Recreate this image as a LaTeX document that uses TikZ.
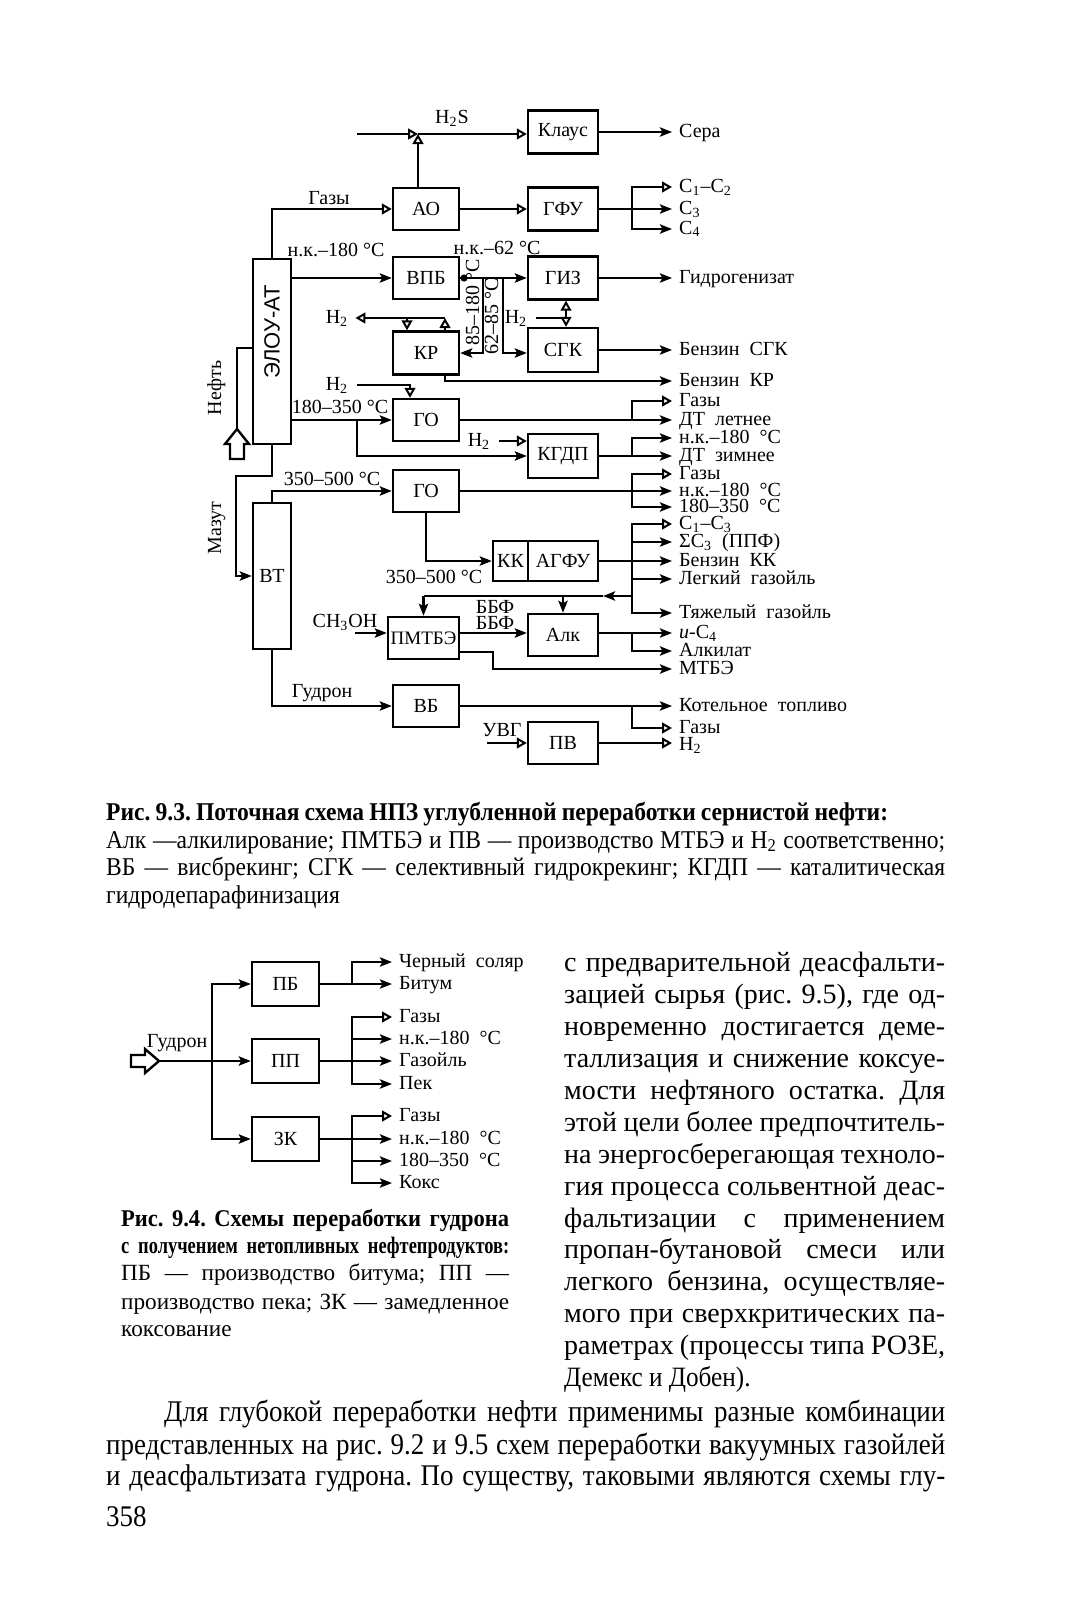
\documentclass[tikz,border=0pt]{standalone}
\usepackage{fontspec}
\setmainfont{Liberation Serif}
\newfontfamily\sansf{Liberation Sans}
\newfontfamily\condf[FakeStretch=0.9]{Liberation Serif}
\newfontfamily\capf[FakeStretch=0.92]{Liberation Serif}
\newfontfamily\capbf[FakeStretch=0.94]{Liberation Serif}
\newfontfamily\condbf[FakeStretch=0.78]{Liberation Serif}
\usetikzlibrary{arrows.meta}
\begin{document}
\frenchspacing
\begin{tikzpicture}[x=0.5pt,y=-0.5pt,line width=1.2pt,
  box/.style={draw,line width=1.2pt,inner sep=0pt,font=\fontsize{10}{12}\selectfont},
  lab/.style={inner sep=0pt,font=\fontsize{10}{12}\selectfont,text height=6.6pt,text depth=1.6pt},
  rl/.style={lab,anchor=west},
  fa/.style={-{Stealth[length=6pt,width=4.6pt,inset=1.2pt]}},
  oa/.style={-{Triangle[open,length=5pt,width=5.4pt,line width=1pt]}},
  ta/.style={shorten >=3pt},
  txt/.style={inner sep=0pt,anchor=base west},
]
\useasboundingbox (0,0) rectangle (1067,1600);

% ---------------- Fig 9.3 boxes ----------------
\node[box,minimum width=35pt,minimum height=21.5pt] (klaus) at (563,132) {Клаус};
\node[box,minimum width=33pt,minimum height=21pt] (AO) at (426,209) {АО};
\node[box,minimum width=35pt,minimum height=21.5pt] (GFU) at (563,209) {ГФУ};
\node[box,minimum width=19pt,minimum height=92.5pt] (ELOU) at (272,351.5) {};
\node[rotate=90,inner sep=0pt,font=\sansf\fontsize{11}{12}\selectfont] (ELOUt) at (272,332) {ЭЛОУ-АТ};
\node[box,minimum width=33pt,minimum height=21pt] (VPB) at (426,278) {ВПБ};
\node[box,minimum width=35pt,minimum height=21.5pt] (GIZ) at (563,278) {ГИЗ};
\node[box,minimum width=33pt,minimum height=21.5pt] (KR) at (426,353) {КР};
\node[box,minimum width=35pt,minimum height=22pt] (SGK) at (563,350) {СГК};
\node[box,minimum width=33pt,minimum height=21pt] (GO1) at (426,420) {ГО};
\node[box,minimum width=35pt,minimum height=22pt] (KGDP) at (563,456) {КГДП};
\node[box,minimum width=19pt,minimum height=73pt] (VT) at (272,576) {ВТ};
\node[box,minimum width=33pt,minimum height=21pt] (GO2) at (426,491) {ГО};
\node[box,minimum width=17.5pt,minimum height=20pt] (KK) at (510.5,561) {КК};
\node[box,minimum width=35pt,minimum height=20pt] (AGFU) at (563,561) {АГФУ};
\node[box,minimum width=35.5pt,minimum height=21pt,font=\fontsize{9.5}{11}\selectfont] (PMTBE) at (423.5,638) {ПМТБЭ};
\node[box,minimum width=35pt,minimum height=21pt] (ALK) at (563,635) {Алк};
\node[box,minimum width=33pt,minimum height=21pt] (VB) at (426,706) {ВБ};
\node[box,minimum width=35pt,minimum height=21pt] (PV) at (563,743) {ПВ};

% ---------------- left / inner labels ----------------
\node[lab] (lGazy) at (329,199) {Газы};
\node[lab] (lH2S) at (452,119) {H\textsubscript{2}S};
\node[lab] (lnk180) at (336,251) {н.к.–180~°C};
\node[lab] (lnk62) at (497,249) {н.к.–62~°C};
\node[lab,rotate=90] (l85) at (474,302) {85–180~°C};
\node[lab,rotate=90] (l62) at (493,316) {62–85~°C};
\node[lab] (lH2a) at (337,318) {H\textsubscript{2}};
\node[lab] (lH2b) at (516,318) {H\textsubscript{2}};
\node[lab] (lH2c) at (337,385) {H\textsubscript{2}};
\node[lab] (l180) at (340,408) {180–350~°C};
\node[lab] (lH2d) at (479,441) {H\textsubscript{2}};
\node[lab] (l350a) at (332,480) {350–500~°C};
\node[lab] (l350b) at (434,578) {350–500~°C};
\node[lab] (lCH3OH) at (345,622) {CH\textsubscript{3}OH};
\node[lab] (lBBF1) at (495,608) {ББФ};
\node[lab] (lBBF2) at (495,624) {ББФ};
\node[lab] (lGudron) at (322,692) {Гудрон};
\node[lab] (lUVG) at (502,731) {УВГ};
\node[lab,rotate=90] (lNeft) at (216,388) {Нефть};
\node[lab,rotate=90] (lMazut) at (216,528) {Мазут};

% ---------------- right labels ----------------
\node[rl] (lSera) at (678,132) {Сера};
\node[rl] (lC12) at (678,187) {C\textsubscript{1}–C\textsubscript{2}};
\node[rl] (lC3) at (678,209) {C\textsubscript{3}};
\node[rl] (lC4) at (678,229) {C\textsubscript{4}};
\node[rl] (lGidro) at (678,278) {Гидрогенизат};
\node[rl] (lBSGK) at (678,350) {Бензин~ СГК};
\node[rl] (lBKR) at (678,381) {Бензин~ КР};
\node[rl] (lGaz1) at (678,401) {Газы};
\node[rl] (lDTl) at (678,420) {ДТ~ летнее};
\node[rl] (lNK1) at (678,438) {н.к.–180~ °C};
\node[rl] (lDTz) at (678,456) {ДТ~ зимнее};
\node[rl] (lGaz2) at (678,474) {Газы};
\node[rl] (lNK2) at (678,491) {н.к.–180~ °C};
\node[rl] (l1802) at (678,507) {180–350~ °C};
\node[rl] (lC13) at (678,524) {C\textsubscript{1}–C\textsubscript{3}};
\node[rl] (lSC3) at (678,542) {ΣC\textsubscript{3}~ (ППФ)};
\node[rl] (lBKK) at (678,561) {Бензин~ КК};
\node[rl] (lLG) at (678,579) {Легкий~ газойль};
\node[rl] (lTG) at (678,613) {Тяжелый~ газойль};
\node[rl] (lIC4) at (678,633) {\textit{и}-C\textsubscript{4}};
\node[rl] (lAlk) at (678,651) {Алкилат};
\node[rl] (lMTBE) at (678,669) {МТБЭ};
\node[rl] (lKot) at (678,706) {Котельное~ топливо};
\node[rl] (lGaz4) at (678,728) {Газы};
\node[rl] (lH2o) at (678,745) {H\textsubscript{2}};

% ---------------- connectors, top ----------------
\coordinate (h2sIn) at (357,134);
\coordinate (jn) at (418,134);
\draw[oa] (h2sIn) -- (jn);
\draw[oa] (jn) -- (klaus.west |- jn);
\draw[oa] (AO.north -| jn) -- (jn);
\draw[fa,ta] (klaus.east) -- (lSera.west);
\draw[oa] (ELOU.north) |- (AO.west);
\draw[oa] (AO.east) -- (GFU.west);
\draw[fa,ta] (GFU.east) -- (lC3.west);
\draw[oa,ta] (632,209) |- (lC12.west);
\draw[fa,ta] (632,209) |- (lC4.west);

% VPB, GIZ, KR, SGK
\draw[fa] (ELOU.east |- VPB) -- (VPB.west);
\draw[fa] (VPB.east) -- (GIZ.west);
\fill (464,278) circle (1.8pt);
\coordinate (jA) at (483,278);
\coordinate (jB) at (503,278);
\draw[fa] (jA) |- (KR.east);
\draw[fa] (jB) |- (SGK.west |- KR.east);
\draw[fa,ta] (GIZ.east) -- (lGidro.west);
\draw[fa,ta] (SGK.east) -- (lBSGK.west);
\coordinate (h2aR) at (445,318);
\coordinate (h2aD) at (407,318);
\draw[oa] (KR.north -| h2aR) -- (h2aR);
\draw[oa,ta] (h2aR) -- (lH2a.east);
\draw[oa] (h2aD) -- (KR.north -| h2aD);
\coordinate (h2b) at (566,318);
\draw[shorten <=4pt] (lH2b.east) -- (h2b);
\draw[{Triangle[open,length=5pt,width=5.4pt,line width=1pt]}-{Triangle[open,length=5pt,width=5.4pt,line width=1pt]}] (GIZ.south -| h2b) -- (SGK.north -| h2b);
\draw[fa,ta] (KR.south -| h2aR) |- (lBKR.west);

% Neft input
\coordinate (neftTip) at (237,429);
\draw (neftTip) -- (249,444) -- (244,444) -- (244,459) -- (230,459) -- (230,444) -- (225,444) -- cycle;
\draw (neftTip) |- (ELOU.west |- 0,348);

% Mazut
\coordinate (maz1) at (236,476);
\draw[fa] (ELOU.south) |- (maz1) |- (VT.west);

% GO1 and KGDP
\draw[fa] (ELOU.east |- GO1) -- (GO1.west);
\coordinate (br1) at (357,420);
\draw[fa] (br1) |- (KGDP.west);
\coordinate (h2c) at (410,385);
\draw[oa,shorten <=4pt] (lH2c.east) -| (GO1.north -| h2c);
\draw[oa,shorten <=4pt] (lH2d.east) -- (KGDP.west |- lH2d.east);
\draw[fa,ta] (GO1.east) -- (lDTl.west);
\draw[fa,ta] (KGDP.east) -- (lDTz.west);
\draw[oa,ta] (632,420) |- (lGaz1.west);
\draw[fa,ta] (632,456) |- (lNK1.west);

% GO2
\draw[fa] (VT.north) |- (GO2.west);
\draw[fa,ta] (GO2.east) -- (lNK2.west);
\draw[oa,ta] (632,491) |- (lGaz2.west);
\draw[fa,ta] (632,491) |- (l1802.west);

% KK / AGFU
\draw[fa] (GO2.south) |- (KK.west);
\draw[fa,ta] (AGFU.east) -- (lBKK.west);
\draw[oa,ta] (632,561) |- (lC13.west);
\draw[fa,ta] (632,542) -- (lSC3.west);
\draw[fa,ta] (632,579) -- (lLG.west);
\draw[fa,ta] (632,561) |- (lTG.west);
\coordinate (ret) at (632,596);
\coordinate (retA) at (603,596);
\draw[fa] (ret) -- (retA);
\draw (retA) -- (PMTBE.north |- ret);
\draw[fa] (PMTBE.north |- ret) -- (PMTBE.north);
\draw[fa] (ALK.north |- ret) -- (ALK.north);

% PMTBE / ALK
\coordinate (ch3) at (355,633);
\draw[fa] (ch3) -- (PMTBE.west |- ch3);
\draw[fa] (PMTBE.east |- ch3) -- (ALK.west |- ch3);
\draw[fa,ta] (ALK.east |- ch3) -- (lIC4.west);
\draw[fa,ta] (632,633) |- (lAlk.west);
\coordinate (mtc) at (493,660);
\draw[fa,ta] (PMTBE.east |- 0,652) -| (mtc) |- (lMTBE.west);

% VB / PV
\draw[fa] (VT.south) |- (VB.west);
\draw[fa,ta] (VB.east) -- (lKot.west);
\draw[oa,ta] (632,706) |- (lGaz4.west);
\coordinate (uvg) at (487,743);
\draw[oa] (uvg) -- (PV.west);
\draw[oa,ta] (PV.east) -- (PV.east -| lH2o.west);

% ---------------- Caption 9.3 ----------------
\node[txt,font=\capf\bfseries\fontsize{12.8}{15}\selectfont] (cap1) at (105,820) {\makebox[391pt][s]{Рис. 9.3. Поточная схема НПЗ углубленной переработки сернистой нефти:}};
\node[txt,font=\capf\fontsize{12.8}{15}\selectfont] (cap2) at (105,848) {\makebox[419.5pt][s]{Алк —алкилирование; ПМТБЭ и ПВ — производство МТБЭ и H\textsubscript{2} соответственно;}};
\node[txt,font=\capf\fontsize{12.8}{15}\selectfont] (cap3) at (105,875) {\makebox[419.5pt][s]{ВБ — висбрекинг; СГК — селективный гидрокрекинг; КГДП — каталитическая}};
\node[txt,font=\capf\fontsize{12.8}{15}\selectfont] (cap4) at (105,903) {гидродепарафинизация};

% ---------------- Fig 9.4 ----------------
\node[box,minimum width=33.5pt,minimum height=22pt] (PB) at (285.5,984) {ПБ};
\node[box,minimum width=33.5pt,minimum height=22pt] (PP) at (285.5,1061) {ПП};
\node[box,minimum width=33.5pt,minimum height=22pt] (ZK) at (285.5,1139) {ЗК};
\coordinate (gTip) at (159,1061);
\draw (gTip) -- (145,1073) -- (145,1067) -- (131,1067) -- (131,1055) -- (145,1055) -- (145,1049) -- cycle;
\node[lab] (lGud2) at (177,1042) {Гудрон};
\draw[fa] (gTip) -- (PP.west);
\coordinate (gBus) at (212,1061);
\draw[fa] (gBus) |- (PB.west);
\draw[fa] (gBus) |- (ZK.west);

\node[rl] (lCS) at (398,962) {Черный~ соляр};
\node[rl] (lBit) at (398,984) {Битум};
\node[rl] (lG5) at (398,1017) {Газы};
\node[rl] (lNK5) at (398,1039) {н.к.–180~ °C};
\node[rl] (lGzl) at (398,1061) {Газойль};
\node[rl] (lPek) at (398,1084) {Пек};
\node[rl] (lG6) at (398,1116) {Газы};
\node[rl] (lNK6) at (398,1139) {н.к.–180~ °C};
\node[rl] (l1806) at (398,1161) {180–350~ °C};
\node[rl] (lKoks) at (398,1183) {Кокс};

\draw[fa,ta] (PB.east) -- (lBit.west);
\draw[fa,ta] (352,984) |- (lCS.west);
\draw[fa,ta] (PP.east) -- (lGzl.west);
\draw[oa,ta] (352,1061) |- (lG5.west);
\draw[fa,ta] (352,1039) -- (lNK5.west);
\draw[fa,ta] (352,1061) |- (lPek.west);
\draw[fa,ta] (ZK.east) -- (lNK6.west);
\draw[oa,ta] (352,1139) |- (lG6.west);
\draw[fa,ta] (352,1139) |- (lKoks.west);
\draw[fa,ta] (352,1161) -- (l1806.west);

% ---------------- Caption 9.4 ----------------
\node[txt,font=\capbf\bfseries\fontsize{12}{14}\selectfont] (c41) at (120,1226) {\makebox[194pt][s]{Рис. 9.4. Схемы переработки гудрона}};
\node[txt,font=\condbf\bfseries\fontsize{11.8}{14}\selectfont] (c42) at (120,1253) {\makebox[194pt][s]{с получением нетопливных нефтепродуктов:}};
\node[txt,font=\fontsize{11.6}{14}\selectfont] (c43) at (120,1280) {\makebox[194pt][s]{ПБ — производство битума; ПП —}};
\node[txt,font=\fontsize{11.6}{14}\selectfont] (c44) at (120,1309) {\makebox[194pt][s]{производство пека; ЗК — замедленное}};
\node[txt,font=\fontsize{11.6}{14}\selectfont] (c45) at (120,1336) {коксование};

% ---------------- Right column text ----------------
\begin{scope}[every node/.style={txt,font=\fontsize{14}{16}\selectfont}]
\node (r1) at (563,971) {\makebox[190.5pt][s]{с предварительной деасфальти-}};
\node (r2) at (563,1003) {\makebox[190.5pt][s]{зацией сырья (рис. 9.5), где од-}};
\node (r3) at (563,1035) {\makebox[190.5pt][s]{новременно достигается деме-}};
\node (r4) at (563,1067) {\makebox[190.5pt][s]{таллизация и снижение коксуе-}};
\node (r5) at (563,1099) {\makebox[190.5pt][s]{мости нефтяного остатка. Для}};
\node (r6) at (563,1131) {\makebox[190.5pt][s]{этой цели более предпочтитель-}};
\node (r7) at (563,1163) {\makebox[190.5pt][s]{на энергосберегающая техноло-}};
\node (r8) at (563,1195) {\makebox[190.5pt][s]{гия процесса сольвентной деас-}};
\node (r9) at (563,1227) {\makebox[190.5pt][s]{фальтизации с применением}};
\node (r10) at (563,1258) {\makebox[190.5pt][s]{пропан-бутановой смеси или}};
\node (r11) at (563,1290) {\makebox[190.5pt][s]{легкого бензина, осуществляе-}};
\node (r12) at (563,1322) {\makebox[190.5pt][s]{мого при сверхкритических па-}};
\node (r13) at (563,1354) {\makebox[190.5pt][s]{раметрах (процессы типа РОЗЕ,}};
\end{scope}
\begin{scope}[every node/.style={txt,font=\condf\fontsize{15}{17}\selectfont}]
\node[font=\condf\fontsize{14}{16}\selectfont] (r14) at (563,1386) {Демекс и Добен).};
\node (b1) at (163,1421) {\makebox[390.5pt][s]{Для глубокой переработки нефти применимы разные комбинации}};
\node (b2) at (105,1454) {\makebox[419.5pt][s]{представленных на рис. 9.2 и 9.5 схем переработки вакуумных газойлей}};
\node (b3) at (105,1485) {\makebox[419.5pt][s]{и деасфальтизата гудрона. По существу, таковыми являются схемы глу-}};
\node (pg) at (105,1526) {358};
\end{scope}
\end{tikzpicture}
\end{document}
